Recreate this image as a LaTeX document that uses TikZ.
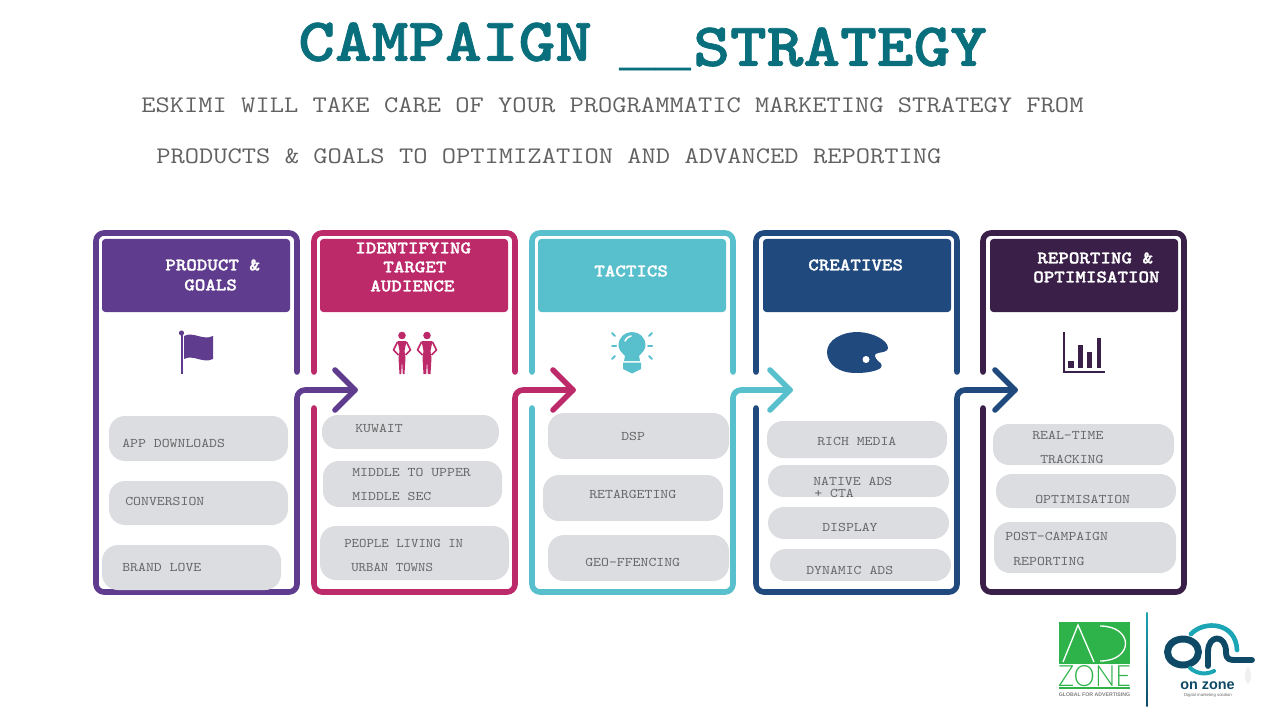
\documentclass[tikz,border=0pt]{standalone}
\usepackage{fontspec}
\newfontfamily\logofont{Liberation Sans}
\newfontfamily\zonefont{Lato Light}
\newfontfamily\rulefont{Liberation Mono}
\newfontfamily\boldmono{lmmonolt10-bold.otf}[FakeBold=1.2]
\definecolor{cardA}{HTML}{5F3C8E}
\definecolor{cardB}{HTML}{BD2A6A}
\definecolor{cardC}{HTML}{58BFCC}
\definecolor{cardD}{HTML}{204A7E}
\definecolor{cardE}{HTML}{3A2048}
\definecolor{titleteal}{HTML}{0A6F7C}
\definecolor{pillgrey}{HTML}{DCDDE1}
\definecolor{adgreen}{HTML}{2DB34A}
\definecolor{ondark}{HTML}{0E4A66}
\definecolor{onteal}{HTML}{1CA6B5}
\tikzset{
  frame/.style={line width=4.2pt, rounded corners=6pt, line cap=round, line join=round},
  headbox/.style={rounded corners=2.5pt},
  pill/.style={fill=pillgrey, rounded corners=12pt},
  titletext/.style={anchor=west, inner sep=0, text=titleteal, xscale=1.14, transform shape,
    font=\boldmono\fontsize{46}{46}\selectfont},
  subtext/.style={anchor=west, inner sep=0, text=black!62, xscale=1.168, transform shape,
    font=\ttfamily\fontsize{17.8}{20}\selectfont},
  headtext/.style={anchor=west, inner sep=0, text=white, xscale=1.13, transform shape,
    font=\boldmono\fontsize{13.3}{15}\selectfont},
  pilltext/.style={anchor=west, inner sep=0, text=black!60, xscale=1.14, transform shape,
    font=\ttfamily\fontsize{9.9}{12}\selectfont},
}
\begin{document}
\begin{tikzpicture}[x=0.75pt, y=-0.75pt]
  \useasboundingbox (0,0) rectangle (1280,720);
  % title
  \node [titletext] (campaign) at (298,42) {CAMPAIGN};
  \node [anchor=base west, inner sep=0, text=titleteal, font=\rulefont\bfseries\fontsize{45}{45}\selectfont] (gap) at (619,65) {\_\_};
  \node [titletext] (strategy) at (693,47) {STRATEGY};
  \node [subtext] (subone) at (141,105) {ESKIMI WILL TAKE CARE OF YOUR PROGRAMMATIC MARKETING STRATEGY FROM};
  \node [subtext] (subtwo) at (156,156) {PRODUCTS \& GOALS TO OPTIMIZATION AND ADVANCED REPORTING};
  % card frames with their arrows
  \foreach \L/\R/\tip/\col in {96/297/355/cardA, 314/515/573/cardB, 532/733/790/cardC, 756/957/1015/cardD} {
    \draw [frame, \col] (\R,372) |- (\L,233) -- (\L,372);
    \draw [frame, \col] (\L,408) |- (\R,592) |- (\tip,390);
    \draw [frame, \col, rounded corners=0pt] (\tip-20,370) -- (\tip,390) -- (\tip-20,410);
  }
  \draw [frame, cardA] (96,372) -- (96,408);
  \draw [frame, cardE] (983,372) |- (1184,233) |- (983,592) -- (983,408);
  % headers
  \foreach \xa/\xb/\col in {102/290/cardA, 320/508/cardB, 538/726/cardC, 763/951/cardD, 990/1178/cardE}
    \fill [headbox, \col] (\xa,239) rectangle (\xb,312);
  \foreach \name/\x/\y/\txt in {prodA/165/265/PRODUCT \&, prodB/184/285/GOALS,
      targA/355/248/IDENTIFYING, targB/383/267/TARGET, targC/370/286/AUDIENCE,
      tact/594/271/TACTICS, crea/808/265/CREATIVES,
      repA/1037/258/REPORTING \&, repB/1033/277/OPTIMISATION}
    \node [headtext] (\name) at (\x,\y) {\txt};
  % flag
  \draw [cardA, line width=1.5pt] (181.5,333) -- (181.5,374);
  \fill [cardA] (181.5,333) circle (2.6);
  \fill [cardA] (184,336) .. controls (193,331) and (203,341) .. (213,336) -- (213,359)
    .. controls (203,364) and (193,354) .. (184,359) -- cycle;
  % people
  \foreach \px/\hw in {402/3.5, 427/4.5} {
    \fill [cardB] (\px,335.5) circle (3.8);
    \fill [cardB] (\px-\hw-1,341) -- (\px+\hw+1,341) -- (\px+\hw-1,351) -- (\px+\hw,358) -- (\px+\hw-1,374) -- (\px+.8,374)
      -- (\px,360) -- (\px-.8,374) -- (\px-\hw+1,374) -- (\px-\hw,358) -- (\px-\hw+1,351) -- cycle;
    \draw [cardB, line width=1.3pt, line join=round] (\px-\hw-1,342) -- (\px-\hw-5,350) -- (\px-\hw,355);
    \draw [cardB, line width=1.3pt, line join=round] (\px+\hw+1,342) -- (\px+\hw+5,350) -- (\px+\hw,355);
  }
  % bulb
  \fill [cardC] (625,356) .. controls (621,352) and (618.5,349) .. (618.5,345.5) .. controls (618.5,337) and (625,332) .. (632,332)
    .. controls (639,332) and (645.5,337) .. (645.5,345.5) .. controls (645.5,349) and (643,352) .. (639,356) -- (640,361) -- (624,361) -- cycle;
  \fill [cardC] (623,362.5) -- (641,362.5) -- (641,369) -- (632,373.5) -- (623,369) -- cycle;
  \draw [white, line width=1.2pt, line cap=round] (625,341) .. controls (626,338) and (628,337) .. (631,336);
  \foreach \sx/\sy/\ex/\ey in {612/333/615/336, 652/333/649/336, 612/346/616/346, 652/346/648/346, 612/359/615/356, 652/359/649/356}
    \draw [cardC, line width=1.5pt, line cap=round] (\sx,\sy) -- (\ex,\ey);
  % palette
  \fill [cardD] (827,352) .. controls (827,340) and (842,332) .. (857,332)
    .. controls (872,332) and (888,340) .. (888,348) .. controls (888,352) and (882,352) .. (878,353)
    .. controls (873,354) and (875,358) .. (878,361) .. controls (883,364) and (883,368) .. (877,370)
    .. controls (868,373) and (860,373) .. (855,373) .. controls (840,373) and (827,365) .. (827,352) -- cycle;
  \fill [white] (866,359.5) circle (3.5);
  % bar chart
  \draw [cardE, line width=1pt] (1064,332) |- (1105,372);
  \foreach \xa/\xb/\top in {1068/1073.5/361, 1078/1083/345, 1087/1092/352, 1096.5/1101/338}
    \fill [cardE] (\xa,\top) rectangle (\xb,368);
  % pills
  \foreach \xa/\ya/\xb/\yb in {109/416/288/461, 109/481/288/525, 102/545/281/590,
      322/415/499/449, 323/461/502/507, 320/526/509/580,
      548/413/729/459, 543/475/723/521, 548/535/729/581,
      767/421/947/458, 768/465/949/497, 768/507/949/539, 770/549/951/581,
      993/424/1174/465, 996/474/1176/508, 994/522/1176/573}
    \fill [pill] (\xa,\ya) rectangle (\xb,\yb);
  \foreach \name/\x/\y/\txt in {app/122/443/APP DOWNLOADS, conv/125/501/CONVERSION, brand/122/567/BRAND LOVE,
      kuwait/355/428/KUWAIT, midA/352/472/MIDDLE TO UPPER, midB/352/496/MIDDLE SEC,
      dsp/621/436/DSP, retarg/589/494/RETARGETING, geo/585/562/GEO-FFENCING,
      rich/817/441/RICH MEDIA, natA/813/481/NATIVE ADS, natB/814/493/+ CTA, disp/822/527/DISPLAY, dyn/806/570/DYNAMIC ADS,
      realA/1032/435/REAL-TIME, realB/1040/459/TRACKING, opti/1035/499/OPTIMISATION,
      postA/1005/536/POST-CAMPAIGN, postB/1013/561/REPORTING}
    \node [pilltext] (\name) at (\x,\y) {\txt};
  \node [pilltext, xscale=.94] (peopA) at (344,543) {PEOPLE LIVING IN};
  \node [pilltext, xscale=.94] (peopB) at (351,567) {URBAN TOWNS};
  % adzone logo
  \fill [adgreen] (1059,622) rectangle (1130,664);
  \draw [white, line width=1pt] (1063,662) -- (1078,625) -- (1094,662);
  \draw [white, line width=1pt] (1100,626) .. controls (1134,626) and (1134,661) .. (1100,661);
  \node [inner sep=0, text=adgreen, xscale=.92, transform shape, font=\zonefont\fontsize{22}{22}\selectfont] (zone) at (1094.5,676) {ZONE};
  \draw [adgreen, line width=1pt] (1059,688) -- (1130,688);
  \node [inner sep=0, text=black!50, font=\logofont\bfseries\fontsize{3.9}{5}\selectfont] (global) at (1094.5,695) {GLOBAL FOR ADVERTISING};
  \shade [top color=onteal, bottom color=ondark] (1146.3,612) rectangle (1147.7,706);
  % onzone logo
  \fill [black!6] (1248,666) .. controls (1252,672) and (1252,682) .. (1248,684) .. controls (1244,682) and (1244,672) .. (1248,666) -- cycle;
  \draw [ondark, line width=5.2pt] (1183,652) ellipse (15.5 and 13);
  \draw [onteal, line width=3.5pt, line cap=round] (1191,634) .. controls (1204,620) and (1236,622) .. (1237,650);
  \draw [ondark, line width=4.4pt, line cap=round, line join=round] (1208,666) -- (1208,652)
    .. controls (1208,634) and (1226,634) .. (1226,652) .. controls (1226,660) and (1230,660) .. (1236,660) -- (1252,660);
  \draw [onteal, line width=3pt, line cap=round] (1190,668) .. controls (1197,674) and (1206,675) .. (1214,671);
  \node [inner sep=0, text=ondark, font=\logofont\bfseries\fontsize{10.8}{11}\selectfont] (onzone) at (1207.5,686) {on zone};
  \node [inner sep=0, text=black!60, font=\logofont\fontsize{3.2}{4}\selectfont] (digital) at (1208,695) {Digital marketing solution};
\end{tikzpicture}
\end{document}
